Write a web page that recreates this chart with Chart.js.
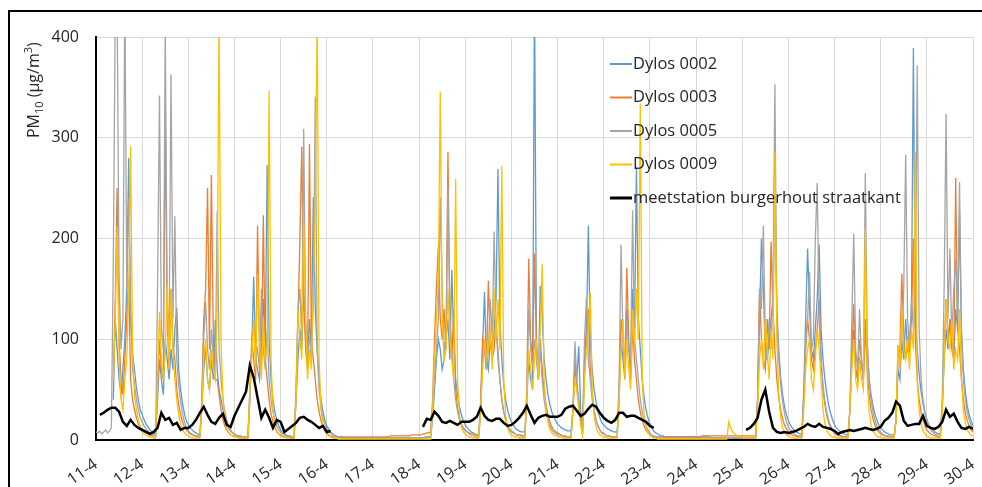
<!DOCTYPE html>
<html>
<head>
<meta charset="utf-8">
<script src="https://cdn.jsdelivr.net/npm/chart.js@4.4.0/dist/chart.umd.min.js"></script>
<style>
  body { margin: 0; background: #fff; }
  canvas { display: block; }
</style>
</head>
<body>
<canvas id="chartPM" width="982" height="487"></canvas>
<script>
// dagen op de x-as (11 t/m 30 april)
const dagen = ['11-4', '12-4', '13-4', '14-4', '15-4', '16-4', '17-4', '18-4', '19-4', '20-4',
               '21-4', '22-4', '23-4', '24-4', '25-4', '26-4', '27-4', '28-4', '29-4', '30-4'];
const yTicks = [0, 100, 200, 300, 400];

// Dylos: waarde per uur, station: waarde per 2 uur (µg/m3)
const stapDylos = 1;
const stapStation = 2;

const dylos0002 = [
  null,null,null,null,null,null,null,null,null, 40,120,90,60,45,70,100,150,280,120,87,70,52,40,30,
  25,20,16,13,10,8,7,6, 40,80,60,45,100,80,60,90,70,110,131,70,50,36,26,19,
  15,12,10,8,7,6,5,30, 70,90,60,50,80,60,119,70,50,40,30,22,16,12,9,7,
  6,5,4,4,3,3,3,3, 50,90,162,80,70,60,100,140,90,273,100,60,40,28,20,14,
  10,8,6,5,4,4,3,3, 40,80,110,90,150,100,80,120,90,241,130,90,60,40,28,20,
  14,11,8,6,5,4,3,3, 3,2,2,2,2,2,2,2, 2,2,2,2,2,2,2,2,
  2,2,2,2,2,2,2,2, 2,2,2,2,2,2,2,2, 2,2,2,2,2,2,2,2,
  2,2,2,2,3,3,3,20, 50,80,100,90,70,80,100,120,80,169,100,60,45,33,25,19,
  15,12,10,8,7,6,5,5, 30,90,147,80,70,100,90,110,140,269,120,80,55,40,30,23,
  18,15,12,10,9,8,8,8, 40,80,60,50,450,100,60,153,125,80,60,45,35,28,23,19,
  16,14,12,11,10,9,9,9, 30,70,60,93,30,12,80,110,213,100,70,50,38,28,22,17,
  15,13,11,10,9,8,8,8, 40,100,80,60,130,90,70,150,110,271,120,90,60,42,30,22,
  16,12,9,7,6,5,4,4, 3,3,3,3,3,3,3,3, 3,3,3,3,3,3,3,3,
  3,3,3,3,3,3,3,3, 2,2,2,2,2,2,2,2, 2,2,2,2,2,2,2,2,
  2,2,2,2,2,2,2,2, 40,120,200,150,90,80,100,120,140,250,130,90,62,45,33,25,
  19,15,12,10,8,7,6,6, 50,120,190,130,90,80,110,140,194,110,80,60,45,34,26,20,
  15,12,10,8,7,6,5,5, 30,80,110,70,60,80,75,60,120,90,60,45,34,26,20,15,
  12,10,8,7,6,5,5,5, 20,70,60,100,80,120,90,100,130,389,120,90,65,48,36,27,
  20,15,12,10,8,7,6,6, 30,80,110,90,120,100,80,130,110,225,110,70,48,34,25,19,
  14
];

const dylos0003 = [
  null,null,null,null,null,null,null,null,null, 60,140,250,100,60,45,80,120,160,60,40,30,22,16,12,
  10,8,7,6,5,4,4,4, 50,100,70,60,322,120,70,150,90,80,50,35,25,18,13,10,
  8,6,5,4,4,3,3,40, 120,150,250,90,263,100,60,60,45,30,20,14,10,7,5,4,
  4,3,3,3,2,2,2,2, 40,100,80,60,213,90,70,223,80,60,40,26,18,12,8,6,
  5,4,3,3,3,2,2,2, 50,120,197,291,150,90,70,294,100,80,60,40,28,19,13,9,
  7,5,4,3,3,3,3,3, 3,3,3,3,3,3,3,3, 3,3,3,3,3,3,3,3,
  3,3,3,3,3,3,3,3, 3,4,4,4,4,4,4,4, 4,4,4,4,5,5,5,5,
  5,5,6,6,7,7,8,40, 100,150,192,120,100,130,90,286,120,80,130,50,32,22,16,12,
  10,8,7,6,6,5,5,5, 40,100,90,70,158,100,80,90,120,80,60,40,28,20,14,10,
  8,7,6,5,5,5,4,4, 50,180,100,80,185,90,60,100,70,50,35,25,18,13,10,8,
  7,6,5,4,4,3,3,3, 30,80,50,40,20,6,70,90,130,70,45,30,20,14,10,7,
  6,5,4,4,3,3,3,3, 50,120,100,70,171,100,60,110,80,60,40,28,20,14,10,7,
  5,4,3,3,3,3,3,3, 3,3,3,3,3,3,3,3, 3,3,3,3,3,3,3,3,
  3,3,3,4,4,4,4,4, 4,4,4,4,4,4,4,4, 4,4,4,4,4,4,4,4,
  4,4,4,4,4,4,4,4, 40,145,100,80,70,120,90,197,130,90,60,42,30,21,15,11,
  8,6,5,4,4,3,3,3, 40,90,120,100,80,70,90,110,140,80,50,35,24,17,12,9,
  7,5,4,4,3,3,3,3, 30,90,135,70,60,100,80,60,110,70,45,30,21,15,11,8,
  6,5,4,4,3,3,3,3, 20,80,90,165,100,80,100,90,120,200,100,60,40,28,20,14,
  10,8,6,5,4,4,3,3, 30,90,140,100,120,90,80,260,110,90,60,40,27,19,14,10,
  8
];

const dylos0005 = [
  8,7,9,6,8,10,7,9,12, 180,420,430,160,90,120,450,150,240,130,70,55,40,30,22,
  18,14,11,9,7,6,5,5, 150,342,110,90,410,140,100,363,120,222,80,55,38,26,18,12,
  9,7,6,5,4,4,4,30, 100,137,90,70,110,80,60,227,90,60,40,28,20,14,10,7,
  6,5,4,4,3,3,3,3, 40,100,120,80,90,70,150,90,70,110,60,40,28,20,14,10,
  8,6,5,4,4,3,3,3, 40,130,150,100,309,120,90,100,80,140,341,90,50,32,22,16,
  12,9,7,5,4,3,3,2, 2,2,2,2,2,2,2,2, 2,2,2,2,2,2,2,2,
  2,2,2,2,2,2,2,2, 2,2,2,2,2,2,2,2, 2,2,2,2,2,2,2,2,
  2,2,2,3,3,3,3,30, 60,90,120,241,150,90,100,251,120,90,60,40,28,20,15,11,
  9,8,6,5,4,4,3,3, 30,80,100,70,90,140,100,207,110,90,60,40,28,20,15,11,
  9,8,6,5,4,4,3,3, 40,130,90,70,100,80,60,90,60,40,28,20,14,10,8,6,
  6,5,4,4,3,3,3,3, 30,98,60,40,20,8,100,141,80,60,40,28,20,14,10,7,
  7,5,4,4,3,3,3,3, 60,194,100,70,120,90,80,228,100,80,60,40,28,20,14,10,
  7,5,4,3,3,2,2,2, 2,2,2,2,2,2,2,2, 2,2,2,2,2,2,2,2,
  2,2,2,2,2,2,2,2, 2,2,2,2,2,2,2,2, 2,2,2,2,2,2,2,2,
  2,2,2,2,2,2,2,2, 40,150,130,213,100,80,120,90,150,353,120,80,55,38,26,18,
  13,10,8,6,5,4,4,4, 40,100,120,167,90,100,198,255,120,80,55,38,27,19,14,10,
  8,6,5,4,4,3,3,3, 30,120,205,90,70,130,80,60,265,100,60,40,28,20,14,10,
  8,6,5,4,4,3,3,3, 20,94,80,100,150,283,120,90,140,110,130,372,110,60,40,28,
  20,14,10,8,6,5,5,5, 40,150,324,120,190,100,150,180,120,256,100,60,40,28,20,15,
  11
];

const dylos0009 = [
  null,null,null,null,null,null,null,null,null, 60,120,212,80,40,30,60,80,150,291,90,45,30,20,14,
  8,6,5,4,3,3,2,2, 60,127,80,60,90,154,70,150,90,60,40,25,16,10,7,5,
  4,3,2,2,2,2,2,30, 80,100,60,50,90,70,60,130,420,100,40,20,12,8,5,4,
  3,3,2,2,2,2,2,2, 50,80,120,70,165,100,60,120,80,90,347,80,30,15,9,6,
  4,3,3,2,2,2,2,2, 40,130,100,80,215,120,60,90,70,150,230,420,80,30,15,9,
  6,4,3,2,2,2,1,1, 1,1,1,1,1,1,1,1, 1,1,1,1,1,1,1,1,
  1,1,1,1,1,1,1,1, 1,1,1,1,1,1,1,1, 1,1,1,1,1,1,1,1,
  1,1,1,1,1,1,1,30, 80,120,160,346,120,80,90,150,100,80,60,259,60,25,13,8,
  6,4,3,3,2,2,2,2, 30,70,100,80,90,110,70,150,100,140,90,272,60,25,12,7,
  5,4,3,3,2,2,2,2, 40,90,70,50,80,100,60,110,175,60,30,18,11,7,5,4,
  4,3,3,2,2,2,2,2, 30,60,50,30,15,4,60,90,110,146,50,25,13,8,5,4,
  3,3,2,2,2,2,2,2, 40,90,120,60,100,70,50,130,90,150,100,334,60,25,13,8,
  5,3,2,2,1,1,1,1, 1,1,1,1,1,1,1,1, 1,1,1,1,1,1,1,1,
  1,1,1,1,1,1,1,1, 1,1,1,1,1,1,1,1, 1,18,12,8,6,5,4,3,
  3,2,2,2,2,2,2,2, 30,80,100,70,120,90,60,110,80,285,100,45,22,12,7,5,
  4,3,2,2,2,2,2,2, 30,70,90,100,60,50,80,110,90,60,30,16,9,6,4,3,
  3,2,2,2,2,2,2,2, 30,70,100,60,50,80,60,50,210,60,28,15,9,6,4,3,
  3,2,2,2,2,2,2,2, 20,94,70,130,90,80,100,70,110,90,286,60,30,16,9,6,
  4,3,2,2,2,2,2,2, 30,80,140,100,90,120,70,90,80,130,60,30,17,10,7,5,
  4
];

const station = [
  null,25,27,30,32,32,28,18,14,20,15,12,
  10,8,6,8,12,27,20,22,15,17,10,12,
  12,15,20,27,33,25,18,16,22,26,15,13,
  24,32,40,48,74,62,42,22,30,22,12,20,
  18,8,11,14,17,22,23,20,18,15,12,14,
  8,9,null,null,null,null,null,null,null,null,null,null,
  null,null,null,null,null,null,null,null,null,null,null,null,
  null,13,21,20,28,24,18,17,19,17,15,18,
  18,18,20,23,32,24,20,19,21,21,17,14,
  15,18,22,27,34,25,17,22,24,25,23,23,
  23,25,31,33,34,29,24,26,31,35,33,27,
  22,19,17,20,27,27,23,24,24,22,20,18,
  14,12,null,null,null,null,null,null,null,null,null,null,
  null,null,null,null,null,null,null,null,null,null,null,null,
  null,10,12,16,22,40,50,28,12,8,7,8,
  7,8,9,11,13,16,14,13,16,13,12,11,
  9,6,8,9,10,9,10,11,12,11,10,11,
  13,19,22,27,38,34,19,14,15,16,16,24,
  14,12,11,13,18,30,23,26,18,12,11,13,
  11
];

function naarPunten(waarden, stap) {
  return waarden.map((v, i) => ({ x: i * stap, y: v }));
}

const lettertype = '"Open Sans", "Noto Sans", sans-serif';
const tekstKleur = '#262626';

// kader, y-as titel en legenda binnen de grafiek
const extraTekening = {
  id: 'extraTekening',
  afterDraw(chart) {
    const ctx = chart.ctx;
    ctx.save();
    ctx.strokeStyle = '#000';
    ctx.lineWidth = 2;
    ctx.beginPath();
    ctx.moveTo(9, 487);
    ctx.lineTo(9, 11);
    ctx.lineTo(982, 11);
    ctx.stroke();

    ctx.translate(39, 138);
    ctx.rotate(-Math.PI / 2);
    ctx.fillStyle = tekstKleur;
    ctx.textAlign = 'left';
    ctx.textBaseline = 'alphabetic';
    const stukken = [['PM', 16, 0], ['10', 11, 4], [' (µg/m', 16, 0], ['3', 11, -7], [')', 16, 0]];
    let x = 0;
    stukken.forEach(([t, grootte, dy]) => {
      ctx.font = grootte + 'px ' + lettertype;
      ctx.fillText(t, x, dy);
      x += ctx.measureText(t).width;
    });
    ctx.restore();

    ctx.save();
    ctx.font = '16.5px ' + lettertype;
    ctx.textBaseline = 'middle';
    ctx.fillStyle = tekstKleur;
    const volgorde = [0, 1, 2, 3, 4];
    volgorde.forEach((idx, rij) => {
      const ds = chart.data.datasets[idx];
      const y = 64 + rij * 33.5;
      ctx.strokeStyle = ds.borderColor;
      ctx.lineWidth = idx === 4 ? 3 : 2;
      ctx.beginPath();
      ctx.moveTo(610, y);
      ctx.lineTo(632, y);
      ctx.stroke();
      ctx.fillText(ds.label, 633, y);
    });
    ctx.restore();
  }
};

function lijn(label, waarden, stap, kleur, dikte, volg) {
  return {
    label: label,
    data: naarPunten(waarden, stap),
    borderColor: kleur,
    borderWidth: dikte,
    pointRadius: 0,
    tension: 0,
    fill: false,
    spanGaps: false,
    order: volg
  };
}

new Chart(document.getElementById('chartPM').getContext('2d'), {
  type: 'line',
  data: {
    datasets: [
      lijn('Dylos 0002', dylos0002, stapDylos, '#5B9BD5', 1.3, 4),
      lijn('Dylos 0003', dylos0003, stapDylos, '#ED7D31', 1.3, 3),
      lijn('Dylos 0005', dylos0005, stapDylos, '#A5A5A5', 1.3, 2),
      lijn('Dylos 0009', dylos0009, stapDylos, '#FFC000', 1.3, 1),
      lijn('meetstation burgerhout straatkant', station, stapStation, '#000000', 2.5, 0)
    ]
  },
  options: {
    responsive: false,
    animation: false,
    layout: { padding: { top: 37, right: 9, left: 0, bottom: 0 } },
    plugins: {
      legend: { display: false },
      tooltip: { enabled: false }
    },
    scales: {
      x: {
        type: 'linear',
        min: 0,
        max: (dagen.length - 1) * 24,
        afterFit: function(scale) {
          scale.height = 47;
          scale.paddingLeft = 0;
          scale.paddingRight = 0;
        },
        afterBuildTicks: function(scale) {
          scale.ticks = dagen.map((d, i) => ({ value: i * 24 }));
        },
        ticks: {
          autoSkip: false,
          maxRotation: 35,
          minRotation: 35,
          padding: 15,
          color: tekstKleur,
          font: { family: lettertype, size: 16 },
          callback: function(v) { return dagen[Math.round(v / 24)]; }
        },
        grid: { color: '#D9D9D9', drawTicks: false },
        border: { color: '#000', width: 2 }
      },
      y: {
        min: yTicks[0],
        max: yTicks[yTicks.length - 1],
        afterFit: function(scale) { scale.width = 96; },
        afterBuildTicks: function(scale) {
          scale.ticks = yTicks.map(v => ({ value: v }));
        },
        ticks: {
          padding: 17,
          color: tekstKleur,
          font: { family: lettertype, size: 16 }
        },
        grid: { color: '#D9D9D9', drawTicks: false },
        border: { color: '#000', width: 2 }
      }
    }
  },
  plugins: [extraTekening]
});
</script>
</body>
</html>
